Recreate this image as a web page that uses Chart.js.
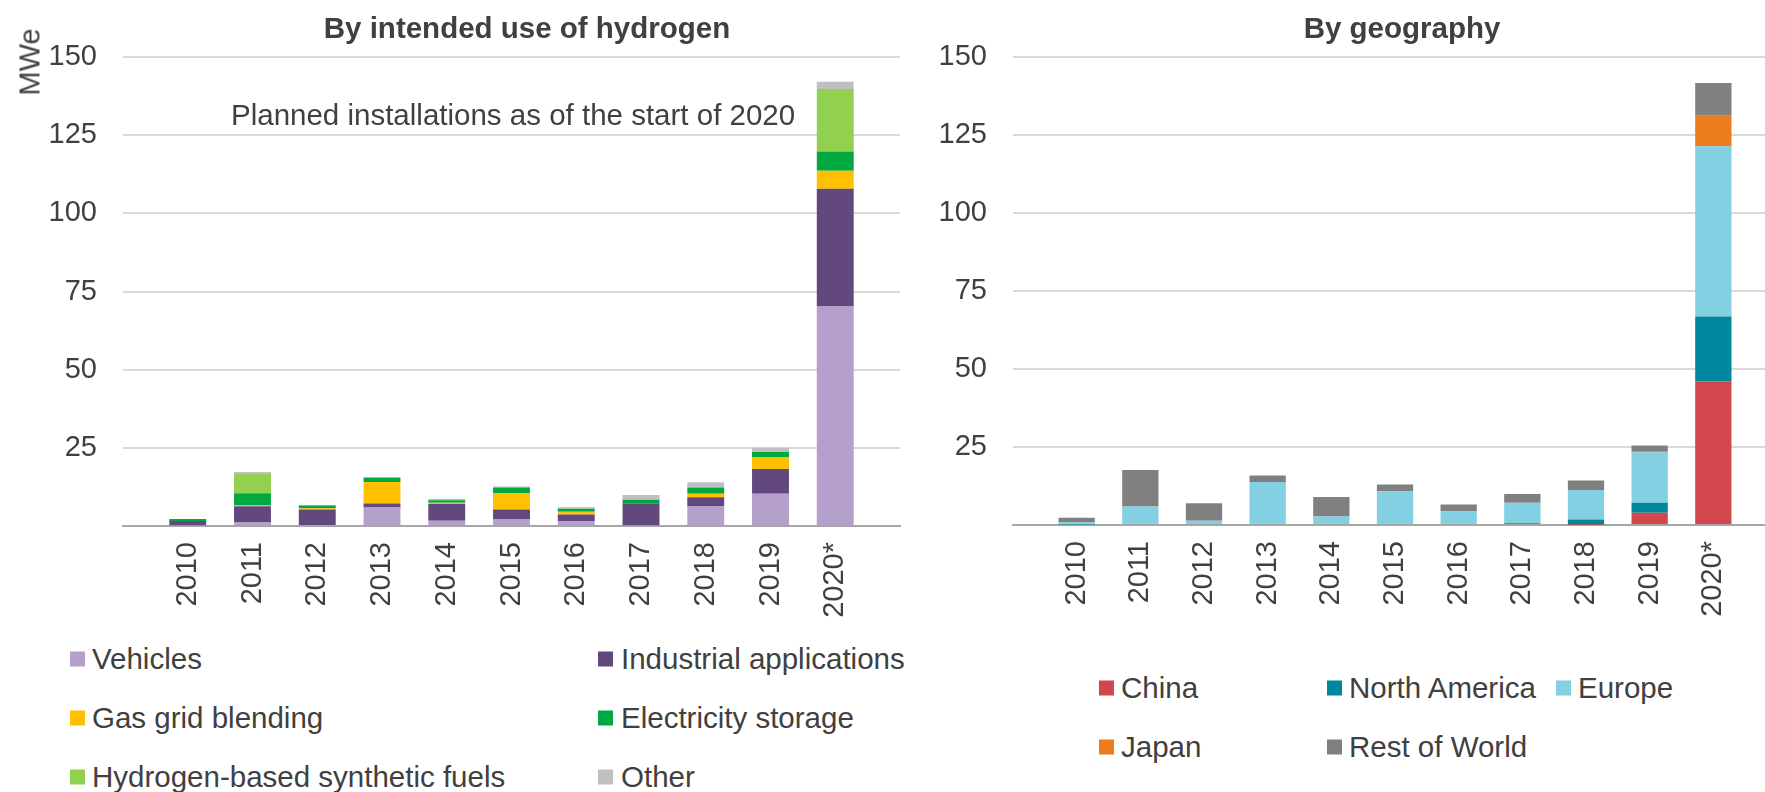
<!DOCTYPE html>
<html>
<head>
<meta charset="utf-8">
<script src="https://cdn.jsdelivr.net/npm/chart.js@4"></script>
<style>
  html, body { margin: 0; padding: 0; background: #fff; overflow: hidden; }
  #page { position: relative; width: 1765px; height: 792px; overflow: hidden; font-family: "Liberation Sans", Arial, sans-serif; color: #404040; }
  canvas { position: absolute; top: 0; }
  .title { position: absolute; font-weight: bold; font-size: 29.5px; transform: translate(-50%, -50%); white-space: nowrap; }
  .txt { position: absolute; font-size: 29.5px; white-space: nowrap; transform: translateY(-50%); }
  .sq { position: absolute; width: 15px; height: 15px; transform: translateY(-50%); }
</style>
</head>
<body>
<div id="page">
  <canvas id="useChart" width="905" height="640" style="left:0"></canvas>
  <canvas id="geoChart" width="880" height="640" style="left:900px"></canvas>
  <div class="title" style="left:527px; top:28px">By intended use of hydrogen</div>
  <div class="title" style="left:1402px; top:28px">By geography</div>
  <div class="txt" style="left:231px; top:115px">Planned installations as of the start of 2020</div>
  <div style="position:absolute; left:30px; top:62px; font-size:29px; transform:translate(-50%,-50%) rotate(-90deg)">MWe</div>
</div>
<script>
// years on the x axis
const years = ['2010', '2011', '2012', '2013', '2014', '2015', '2016', '2017', '2018', '2019', '2020*'];
const yTicks = [25, 50, 75, 100, 125, 150];

// by intended use (MWe)
const vehicles    = [0.2, 1.1, 0.3, 5.9, 1.7, 2.2, 1.6, 0.2, 6.4, 10.3, 70.2];
const industrial  = [1.4, 5.2, 5.0, 1.3, 5.3, 3.1, 2.1, 6.9, 2.8, 7.9, 37.7];
const gasGrid     = [0, 0.4, 0.4, 6.9, 0.4, 5.2, 0.85, 0, 1.1, 3.9, 5.7];
const electricity = [0.6, 3.8, 0.85, 1.3, 0.85, 1.8, 0.95, 1.3, 2.0, 1.6, 6.2];
const synthetic   = [0, 6.1, 0, 0, 0, 0, 0, 0, 0, 0, 20.0];
const other       = [0, 0.7, 0.2, 0.3, 0.4, 0.3, 0.5, 1.5, 1.7, 1.3, 2.3];

// by geography (MWe)
const china        = [0, 0, 0, 0, 0, 0, 0, 0, 0.1, 3.9, 46.0];
const northAmerica = [0.2, 0, 0, 0, 0, 0, 0, 0.6, 1.7, 3.2, 20.8];
const europe       = [0.6, 5.9, 1.4, 13.8, 2.7, 10.7, 4.3, 6.5, 9.4, 16.2, 54.6];
const japan        = [0, 0, 0, 0, 0, 0.2, 0.2, 0, 0, 0.2, 9.8];
const restOfWorld  = [1.5, 11.7, 5.6, 2.1, 6.3, 2.1, 2.1, 2.8, 3.1, 2.0, 10.5];

const FONT = "'Liberation Sans', Arial, sans-serif";
const TEXT = '#404040';

// blank category at each end, like the original axis
const paddedLabels = ['', ...years, ''];
const pad = arr => [null, ...arr, null];

function makeDataset(label, data, color) {
    return {
        label: label,
        data: pad(data),
        backgroundColor: color,
        borderWidth: 0,
        barPercentage: 0.57,
        categoryPercentage: 1
    };
}

function makeOptions(yWidth, xHeight, padding) {
    return {
        responsive: false,
        animation: false,
        layout: { padding: padding },
        plugins: { legend: { display: false }, tooltip: { enabled: false } },
        scales: {
            x: {
                stacked: true,
                offset: false,
                grid: { display: false, drawTicks: false },
                border: { color: '#A6A6A6', width: 2 },
                ticks: {
                    autoSkip: false, maxRotation: 90, minRotation: 90, padding: 16,
                    color: TEXT, font: { family: FONT, size: 29 }
                },
                afterFit: s => {
                    s.height = xHeight;
                    s.paddingLeft = 0;
                    s.paddingRight = 0;
                }
            },
            y: {
                stacked: true,
                min: 0,
                max: 150,
                grid: { color: '#D9D9D9', lineWidth: 2, drawTicks: false },
                border: { display: false },
                ticks: {
                    stepSize: 25, padding: 26, color: TEXT,
                    font: { family: FONT, size: 29 },
                    callback: v => yTicks.includes(v) ? String(v) : ''
                },
                afterFit: s => { s.width = yWidth; }
            }
        }
    };
}

const useSeries = [
    ['Vehicles', vehicles, '#B4A0CB'],
    ['Industrial applications', industrial, '#63487E'],
    ['Gas grid blending', gasGrid, '#FFC000'],
    ['Electricity storage', electricity, '#00A940'],
    ['Hydrogen-based synthetic fuels', synthetic, '#92D050'],
    ['Other', other, '#BFBFBF']
];
const geoSeries = [
    ['China', china, '#D2474B'],
    ['North America', northAmerica, '#00889F'],
    ['Europe', europe, '#82D0E2'],
    ['Japan', japan, '#EB7D1C'],
    ['Rest of World', restOfWorld, '#808080']
];

new Chart(document.getElementById('useChart').getContext('2d'), {
    type: 'bar',
    data: { labels: paddedLabels, datasets: useSeries.map(s => makeDataset(s[0], s[1], s[2])) },
    options: makeOptions(123, 114, { top: 57, right: 5, left: 0, bottom: 0 })
});

new Chart(document.getElementById('geoChart').getContext('2d'), {
    type: 'bar',
    data: { labels: paddedLabels, datasets: geoSeries.map(s => makeDataset(s[0], s[1], s[2])) },
    options: makeOptions(113, 115, { top: 57, right: 3, left: 0, bottom: 0 })
});

// legends
const page = document.getElementById('page');
function addLegendItem(name, color, sqX, textX, y) {
    const sq = document.createElement('div');
    sq.className = 'sq';
    sq.style.left = sqX + 'px';
    sq.style.top = y + 'px';
    sq.style.background = color;
    page.appendChild(sq);
    const t = document.createElement('div');
    t.className = 'txt';
    t.style.left = textX + 'px';
    t.style.top = y + 'px';
    t.textContent = name;
    page.appendChild(t);
}
const useCols = [[70, 92], [598, 621]];
const useRows = [659, 718, 777];
useSeries.forEach((s, i) => {
    const c = useCols[i % 2];
    addLegendItem(s[0], s[2], c[0], c[1], useRows[Math.floor(i / 2)]);
});
const geoCols = [[1099, 1121], [1327, 1349], [1556, 1578]];
const geoRows = [688, 747];
geoSeries.forEach((s, i) => {
    const c = geoCols[i % 3];
    addLegendItem(s[0], s[2], c[0], c[1], geoRows[Math.floor(i / 3)]);
});
</script>
</body>
</html>
